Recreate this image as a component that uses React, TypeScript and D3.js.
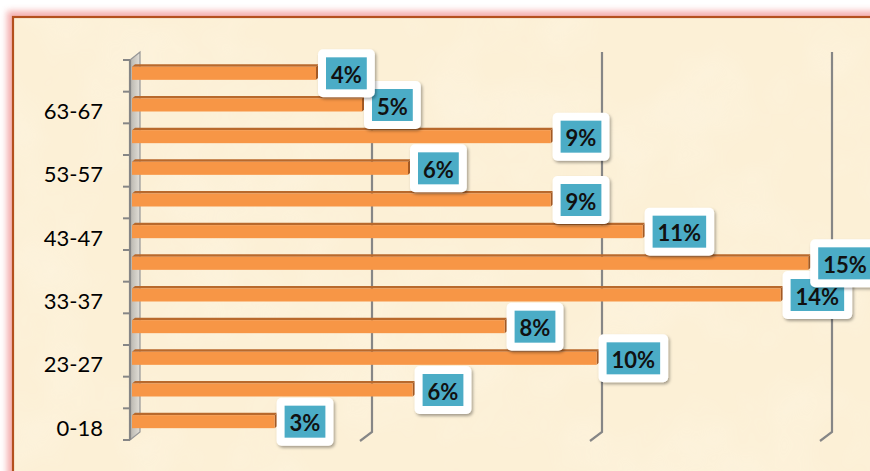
import React from "react";
import * as d3 from "d3";

const categories = ["0-18", "19-22", "23-27", "28-32", "33-37", "38-42", "43-47", "48-52", "53-57", "58-62", "63-67", "68+"];
const values = [3.1, 6.1, 10.1, 8.1, 14.1, 14.7, 11.1, 9.1, 6.0, 9.1, 5.0, 4.0];
const gridTicks = [5, 10, 15];
const shownLabels = ["0-18", "23-27", "33-37", "43-47", "53-57", "63-67"];

const W = 870;
const H = 471;
const DX = -10; // depth offset front vs back
const DY = 8;

function measure(text: string, font: string): number {
  const c = document.createElement("canvas").getContext("2d");
  if (!c) return text.length * 13;
  c.font = font;
  return c.measureText(text).width;
}

export default function App() {
  const xBack = d3.scaleLinear().domain([0, 15]).range([142, 832]);
  const xFront = (v: number) => xBack(v) + DX;
  const yFront = d3
    .scaleBand<string>()
    .domain([...categories].reverse())
    .range([60, 440])
    .padding(0);
  const bw = yFront.bandwidth();
  const labelFont = "bold 22px Lato";

  const wallFrontX = xFront(0) - 2;
  const wallBackX = xBack(0) - 2;

  return (
    <svg
      width={W}
      height={H}
      style={{ position: "fixed", left: 0, top: 0, display: "block" }}
      fontFamily="Lato, 'Open Sans', sans-serif"
    >
      <defs>
        <filter id="glow" x="-5%" y="-5%" width="110%" height="110%">
          <feGaussianBlur stdDeviation="3" />
        </filter>
        <filter id="paper" x="0" y="0" width="100%" height="100%">
          <feTurbulence type="fractalNoise" baseFrequency="0.012" numOctaves="3" seed="7" result="n" />
          <feColorMatrix
            in="n"
            type="matrix"
            values="0 0 0 0 1  0 0 0 0 0.97  0 0 0 0 0.9  0 0 0 0.9 -0.35"
          />
        </filter>
        <filter id="shadow" x="-20%" y="-20%" width="150%" height="150%">
          <feDropShadow dx="1.5" dy="2" stdDeviation="1.8" floodColor="#000" floodOpacity="0.35" />
        </filter>
        <linearGradient id="wallGrad" x1="0" x2="1" y1="0" y2="0">
          <stop offset="0" stopColor="#b8b5ae" />
          <stop offset="1" stopColor="#e2dfd8" />
        </linearGradient>
      </defs>
      <rect x={0} y={0} width={W} height={H} fill="#ffffff" />
      {/* frame glow */}
      <rect x={12} y={16} width={W + 20} height={H + 20} fill="none" stroke="#f29a9a" strokeWidth={10} filter="url(#glow)" opacity={0.8} />
      <rect x={13} y={17} width={W + 20} height={H + 20} fill="#fcf0d6" />
      <rect x={13} y={17} width={W + 20} height={H + 20} fill="#fff" filter="url(#paper)" opacity={0.5} />
      <rect x={13} y={17} width={W + 20} height={H + 20} fill="none" stroke="#b4501e" strokeWidth={2.2} />

      {/* gridlines (back plane) */}
      {gridTicks.map((t) => {
        const x = xBack(t);
        return (
          <path
            key={t}
            d={`M${x},${yFront.range()[0] - DY}V${yFront.range()[1] - DY}L${x + DX - 2},${yFront.range()[1] + 1}`}
            fill="none"
            stroke="#868686"
            strokeWidth={2.2}
          />
        );
      })}

      {/* left wall */}
      <path
        d={`M${wallFrontX},60L${wallBackX},52L${wallBackX},432L${wallFrontX},440Z`}
        fill="url(#wallGrad)"
        stroke="#969696"
        strokeWidth={1.2}
      />
      <path d={`M${wallFrontX},60V440`} stroke="#868686" strokeWidth={2.2} fill="none" />
      {d3.range(categories.length + 1).map((i) => {
        const y = 60 + i * bw;
        return <line key={i} x1={wallFrontX - 7} x2={wallFrontX} y1={y} y2={y} stroke="#868686" strokeWidth={2} />;
      })}

      {/* category labels */}
      {categories.map((c) =>
        shownLabels.includes(c) ? (
          <text
            key={c}
            x={103}
            y={(yFront(c) as number) + bw / 2 + 3}
            textAnchor="end"
            dominantBaseline="central"
            fontSize={22}
            fill="#000"
          >
            {c}
          </text>
        ) : null
      )}

      {/* bars */}
      {categories.map((c, i) => {
        const v = values[i];
        const cy = (yFront(c) as number) + bw / 2 - 2.5;
        const x0 = xFront(0);
        const x1 = xFront(v);
        const top = cy - 6.5;
        const bot = cy + 6.5;
        const dx = 3;
        const dy = -2.5;
        return (
          <g key={c}>
            <path d={`M${x0},${top}L${x1},${top}L${x1 + dx},${top + dy}L${x0 + dx},${top + dy}Z`} fill="#b8692c" />
            <path d={`M${x1},${top}L${x1 + dx},${top + dy}L${x1 + dx},${bot + dy}L${x1},${bot}Z`} fill="#a65b24" />
            <rect x={x0} y={top} width={x1 - x0} height={bot - top} fill="#f79646" />
          </g>
        );
      })}

      {/* data labels */}
      {categories.map((c, i) => {
        const v = values[i];
        const label = `${Math.round(v)}%`;
        const cy = (yFront(c) as number) + bw / 2 - 2.5;
        const tw = measure(label, labelFont);
        const teal = tw + 10;
        const bx = xFront(v) + 2;
        return (
          <g key={c}>
            <rect x={bx} y={cy - 24} width={teal + 16} height={48} rx={5} fill="#ffffff" filter="url(#shadow)" />
            <rect x={bx + 8} y={cy - 16} width={teal} height={32} fill="#4bacc6" />
            <text
              x={bx + 8 + teal / 2}
              y={cy + 1}
              textAnchor="middle"
              dominantBaseline="central"
              fontWeight="bold"
              fontSize={22}
              fill="#111"
            >
              {label}
            </text>
          </g>
        );
      })}
    </svg>
  );
}
